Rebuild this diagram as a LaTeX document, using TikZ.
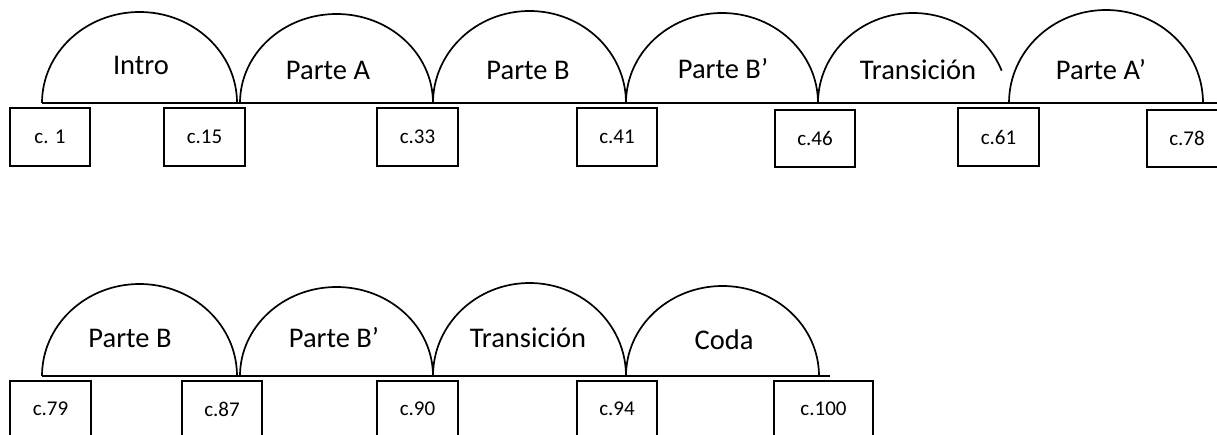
\documentclass[tikz,border=0pt]{standalone}
\usepackage{fontspec}
\setmainfont{Carlito}
\begin{document}
\begin{tikzpicture}[x=1pt,y=-1pt,
  ln/.style={line width=1.7pt,black},
  sec/.style={font=\fontsize{28.5}{34}\selectfont,anchor=base,inner sep=0pt},
  bar/.style={draw,line width=1.7pt,rectangle,inner sep=0pt,font=\fontsize{21}{25}\selectfont},
]
\useasboundingbox (0,0) rectangle (1217,435);

% ---------- Row 1 ----------
\coordinate (r1s) at (42,103);
\coordinate (r1e) at (1220,103);
\draw[ln] (r1s) -- (r1e);
\draw[ln] (42,103) arc[start angle=180,end angle=0,x radius=97.5pt,y radius=91pt];
\draw[ln] (240,103) arc[start angle=180,end angle=0,x radius=96.5pt,y radius=89pt];
\draw[ln] (433,103) arc[start angle=180,end angle=0,x radius=96.5pt,y radius=92pt];
\draw[ln] (626,103) arc[start angle=180,end angle=0,x radius=96pt,y radius=90pt];
\draw[ln] (818,103) arc[start angle=180,end angle=21,x radius=95pt,y radius=90pt];
\draw[ln] (1009,103) arc[start angle=180,end angle=0,x radius=97pt,y radius=93pt];

\node[sec] (t1) at (141,75) {Intro};
\node[sec] (t2) at (328,80) {Parte A};
\node[sec] (t3) at (528,80) {Parte B};
\node[sec] (t4) at (723,79) {Parte B’};
\node[sec] (t5) at (918,80) {Transición};
\node[sec] (t6) at (1101,80) {Parte A’};

\node[bar,minimum width=80pt,minimum height=58pt] (b1) at (50,137) {c. 1};
\node[bar,minimum width=81pt,minimum height=58pt] (b2) at (204.5,137) {c.15};
\node[bar,minimum width=81pt,minimum height=58pt] (b3) at (417.5,137) {c.33};
\node[bar,minimum width=80pt,minimum height=58pt] (b4) at (617,137) {c.41};
\node[bar,minimum width=80pt,minimum height=57pt] (b5) at (815,138.5) {c.46};
\node[bar,minimum width=81pt,minimum height=58pt] (b6) at (998.5,137) {c.61};
\node[bar,minimum width=80pt,minimum height=57pt] (b7) at (1187,138.5) {c.78};

% ---------- Row 2 ----------
\coordinate (r2s) at (42,376);
\coordinate (r2e) at (830,376);
\draw[ln] (r2s) -- (r2e);
\draw[ln] (42,376) arc[start angle=180,end angle=0,x radius=97.5pt,y radius=92pt];
\draw[ln] (240,376) arc[start angle=180,end angle=0,x radius=96.5pt,y radius=89pt];
\draw[ln] (433,376) arc[start angle=180,end angle=0,x radius=96.5pt,y radius=93pt];
\draw[ln] (626,376) arc[start angle=180,end angle=0,x radius=96.5pt,y radius=90pt];

\node[sec] (u1) at (130,347) {Parte B};
\node[sec] (u2) at (334,347) {Parte B’};
\node[sec] (u3) at (528,347) {Transición};
\node[sec] (u4) at (724,349) {Coda};

\node[bar,minimum width=81pt,minimum height=56pt] (c1) at (50.5,409) {c.79};
\node[bar,minimum width=80pt,minimum height=56pt] (c2) at (222,409) {c.87};
\node[bar,minimum width=81pt,minimum height=56pt] (c3) at (417.5,409) {c.90};
\node[bar,minimum width=80pt,minimum height=56pt] (c4) at (617,409) {c.94};
\node[bar,minimum width=99pt,minimum height=56pt] (c5) at (823.5,409) {c.100};
\end{tikzpicture}
\end{document}
